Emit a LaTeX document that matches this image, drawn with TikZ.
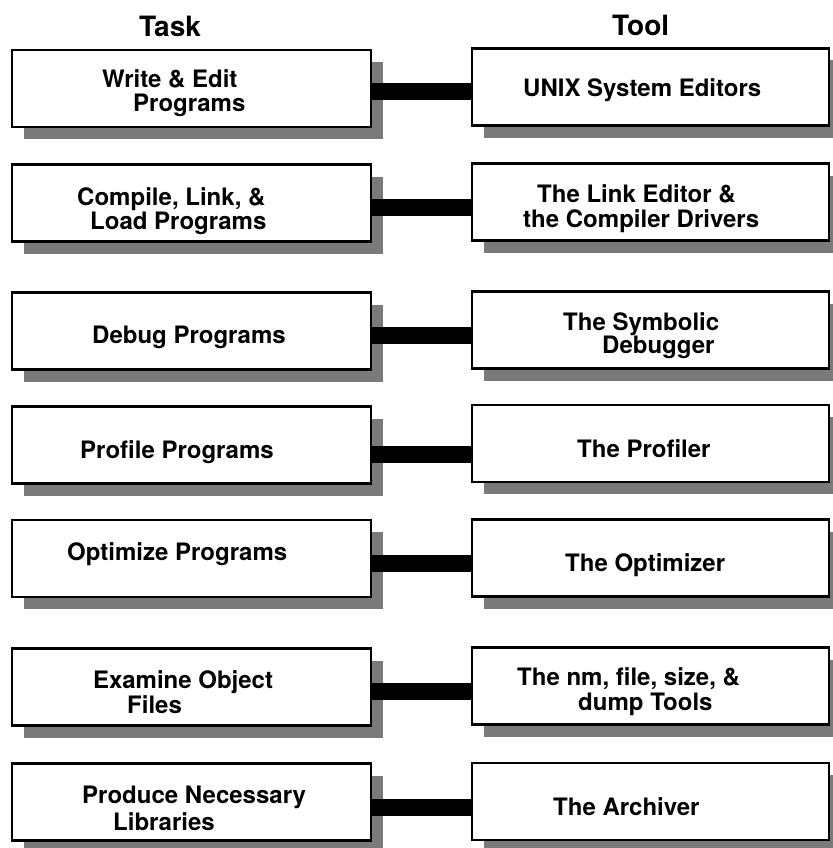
\documentclass[tikz,border=0pt]{standalone}
\usepackage{fontspec}
\setmainfont{TeX Gyre Heros}
\usetikzlibrary{shadows}
\begin{document}
\begin{tikzpicture}[x=1pt,y=-1pt,
  box/.style={rectangle, draw=black, line width=2.4pt, fill=white,
    inner sep=0pt, outer sep=0pt, minimum height=77pt,
    drop shadow={shadow xshift=12pt, shadow yshift=-12pt,
      fill=black!52, opacity=1}},
  taskbox/.style={box, minimum width=359pt},
  toolbox/.style={box, minimum width=357pt},
  lbl/.style={anchor=base west, inner sep=0pt,
    font=\fontsize{24}{28}\selectfont\bfseries},
  head/.style={anchor=base west, inner sep=0pt,
    font=\fontsize{28}{32}\selectfont\bfseries},
  bar/.style={draw=black, line width=17pt}]
\useasboundingbox (0,0) rectangle (832,848);

% column headings
\node[head] (hTask) at (139,37) {Task};
\node[head] (hTool) at (612,36) {Tool};

% task boxes (left column)
\node[taskbox] (L1) at (191.5,88.5) {};
\node[taskbox] (L2) at (191.5,203) {};
\node[taskbox] (L3) at (191.5,331) {};
\node[taskbox] (L4) at (191.5,445) {};
\node[taskbox] (L5) at (191.5,558.5) {};
\node[taskbox] (L6) at (191.5,687) {};
\node[taskbox] (L7) at (191.5,802) {};

% tool boxes (right column)
\node[toolbox] (R1) at (650.5,87) {};
\node[toolbox] (R2) at (650.5,202) {};
\node[toolbox] (R3) at (650.5,330) {};
\node[toolbox] (R4) at (650.5,443.5) {};
\node[toolbox] (R5) at (650.5,558) {};
\node[toolbox] (R6) at (650.5,686) {};
\node[toolbox] (R7) at (650.5,801.5) {};

% heights of the connecting bars
\coordinate (b1) at (0,91.5);
\coordinate (b2) at (0,207);
\coordinate (b3) at (0,335);
\coordinate (b4) at (0,454);
\coordinate (b5) at (0,563.5);
\coordinate (b6) at (0,691.5);
\coordinate (b7) at (0,807);

\foreach \i in {1,...,7}
  \draw[bar] (L\i.east |- b\i) -- (R\i.west |- b\i);

% task labels
\node[lbl] (t1a) at (102,88) {Write \& Edit};
\node[lbl] (t1b) at (133,112) {Programs};
\node[lbl] (t2a) at (77,205) {Compile, Link, \&};
\node[lbl] (t2b) at (90,229) {Load Programs};
\node[lbl] (t3a) at (92,343) {Debug Programs};
\node[lbl] (t4a) at (80,458) {Profile Programs};
\node[lbl] (t5a) at (67,560) {Optimize Programs};
\node[lbl] (t6a) at (93,688) {Examine Object};
\node[lbl] (t6b) at (127,713) {Files};
\node[lbl] (t7a) at (82,803) {Produce Necessary};
\node[lbl] (t7b) at (113,830) {Libraries};

% tool labels
\node[lbl] (u1a) at (523,97) {UNIX System Editors};
\node[lbl] (u2a) at (537,202) {The Link Editor \&};
\node[lbl] (u2b) at (523,227) {the Compiler Drivers};
\node[lbl] (u3a) at (563,330) {The Symbolic};
\node[lbl] (u3b) at (602,353) {Debugger};
\node[lbl] (u4a) at (577,457) {The Profiler};
\node[lbl] (u5a) at (565,571) {The Optimizer};
\node[lbl] (u6a) at (517,685) {The nm, file, size, \&};
\node[lbl] (u6b) at (578,710) {dump Tools};
\node[lbl] (u7a) at (553,815) {The Archiver};
\end{tikzpicture}
\end{document}
